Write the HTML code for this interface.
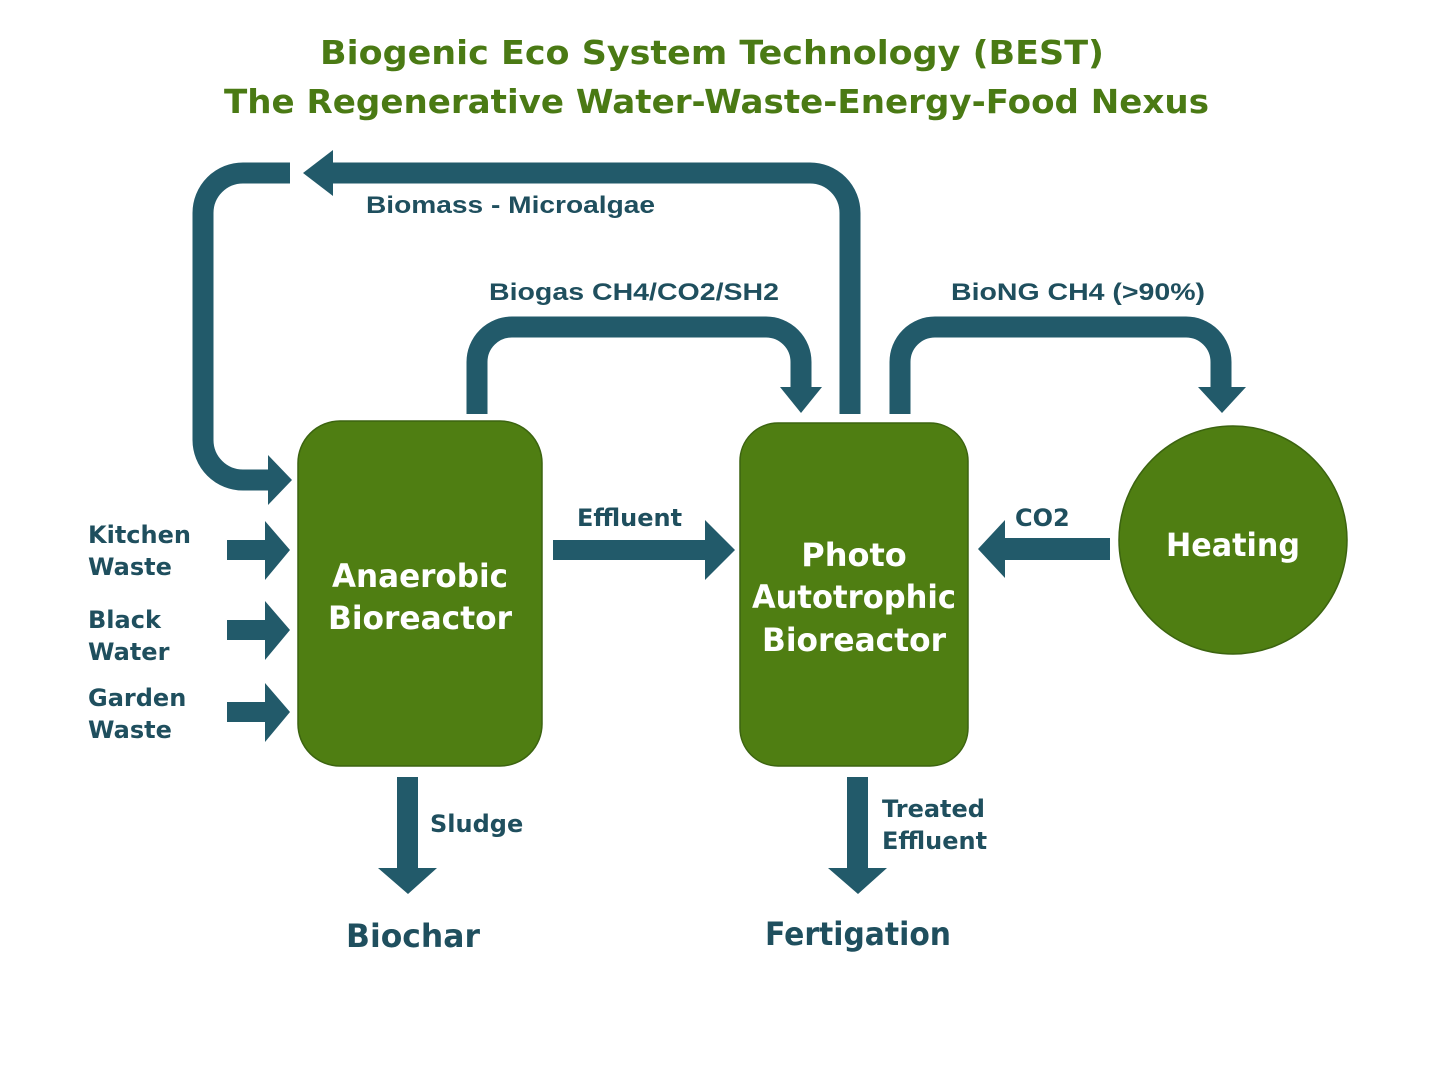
<!DOCTYPE html>
<html><head><meta charset="utf-8"><style>
html,body{margin:0;padding:0;background:#fff;width:1440px;height:1080px;overflow:hidden}
svg{display:block}
.t{font-family:"DejaVu Sans","Liberation Sans",sans-serif;font-weight:bold}
.l{font-family:"Liberation Sans",sans-serif;font-weight:bold}
</style></head><body>
<svg width="1440" height="1080" viewBox="0 0 1440 1080" xmlns="http://www.w3.org/2000/svg">
<g class="t" fill="#4a7a14" font-size="33">
<text x="320" y="64" textLength="784" lengthAdjust="spacingAndGlyphs">Biogenic Eco System Technology (BEST)</text>
<text x="224" y="113" textLength="985" lengthAdjust="spacingAndGlyphs">The Regenerative Water-Waste-Energy-Food Nexus</text>
</g>
<g fill="none" stroke="#225a6a" stroke-width="21">
<path d="M850 414 V213 A40 40 0 0 0 810 173 H330"/>
<path d="M290 173 H243 A40 40 0 0 0 203 213 V440 A40 40 0 0 0 243 480 H270"/>
<path d="M477 414 V362 A35 35 0 0 1 512 327 H766 A35 35 0 0 1 801 362 V390"/>
<path d="M900 414 V362 A35 35 0 0 1 935 327 H1186 A35 35 0 0 1 1221 362 V390"/>
</g>
<g fill="#225a6a">
<polygon points="303,173 333,150 333,196"/>
<polygon points="292,480 268,455 268,505"/>
<polygon points="780,387 822,387 801,413"/>
<polygon points="1198,387 1246,387 1222,413"/>
<polygon points="553,540 705,540 705,520 735,550 705,580 705,560 553,560"/>
<polygon points="1110,538 1005,538 1005,520 978,549 1005,578 1005,560 1110,560"/>
<polygon points="227,540 265,540 265,521 290,550 265,580 265,560 227,560"/>
<polygon points="227,620 265,620 265,601 290,630 265,660 265,640 227,640"/>
<polygon points="227,702 265,702 265,683 290,712 265,742 265,722 227,722"/>
<polygon points="397,777 418,777 418,868 437,868 408,894 378,868 397,868"/>
<polygon points="847,777 868,777 868,868 887,868 858,894 828,868 847,868"/>
</g>
<g fill="#4f7e12" stroke="#3c6410" stroke-width="1.5">
<rect x="298" y="421" width="244" height="345" rx="42"/>
<rect x="740" y="423" width="228" height="343" rx="38"/>
<circle cx="1233" cy="540" r="114"/>
</g>
<g class="t" fill="#fff" font-size="32" text-anchor="middle">
<text x="420" y="587" textLength="176" lengthAdjust="spacingAndGlyphs">Anaerobic</text>
<text x="420" y="629" textLength="184" lengthAdjust="spacingAndGlyphs">Bioreactor</text>
<text x="854" y="566">Photo</text>
<text x="854" y="608" textLength="204" lengthAdjust="spacingAndGlyphs">Autotrophic</text>
<text x="854" y="651" textLength="184" lengthAdjust="spacingAndGlyphs">Bioreactor</text>
<text x="1233" y="556" textLength="134" lengthAdjust="spacingAndGlyphs">Heating</text>
</g>
<g class="l" fill="#1f4f5e" font-size="24">
<text x="366" y="213" textLength="289" lengthAdjust="spacingAndGlyphs">Biomass - Microalgae</text>
<text x="489" y="300" textLength="290" lengthAdjust="spacingAndGlyphs">Biogas CH4/CO2/SH2</text>
<text x="951" y="300" textLength="254" lengthAdjust="spacingAndGlyphs">BioNG CH4 (&gt;90%)</text>
</g>
<g class="t" fill="#1f4f5e" font-size="24">
<text x="577" y="526">Effluent</text>
<text x="1015" y="526">CO2</text>
<text x="88" y="543">Kitchen</text>
<text x="88" y="575">Waste</text>
<text x="88" y="628">Black</text>
<text x="88" y="660">Water</text>
<text x="88" y="706">Garden</text>
<text x="88" y="738">Waste</text>
<text x="430" y="832">Sludge</text>
<text x="882" y="817">Treated</text>
<text x="882" y="849">Effluent</text>
<text x="346" y="947" font-size="32" textLength="134" lengthAdjust="spacingAndGlyphs">Biochar</text>
<text x="765" y="945" font-size="32" textLength="186" lengthAdjust="spacingAndGlyphs">Fertigation</text>
</g>
</svg>
</body></html>
